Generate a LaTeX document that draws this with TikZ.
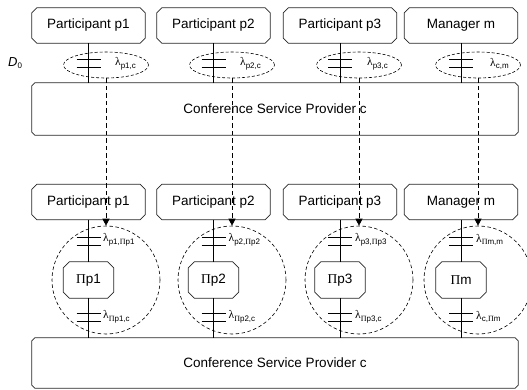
\documentclass[tikz,border=0pt]{standalone}
\usepackage{fontspec}
\setmainfont{Liberation Sans}
\newfontfamily\gfont{Liberation Serif}
\usetikzlibrary{shapes.geometric,arrows.meta}
\newcommand\lab[2]{{\fontsize{11.5}{11.5}\selectfont\gfont #1}\raisebox{-2.5pt}{\fontsize{8}{8}\selectfont #2}}
\newcommand\PI{{\gfont Π}}
\newcommand\chamf[2]{\draw[outline] ([xshift=#2]#1.north west) -- ([xshift=-#2]#1.north east) -- ([yshift=-#2]#1.north east) -- ([yshift=#2]#1.south east) -- ([xshift=-#2]#1.south east) -- ([xshift=#2]#1.south west) -- ([yshift=#2]#1.south west) -- ([yshift=-#2]#1.north west) -- cycle;}
\begin{document}
\begin{tikzpicture}[x=1pt,y=-1pt,
  box/.style={rectangle, minimum width=113pt, minimum height=35pt, inner sep=0pt,
    font=\fontsize{13.5}{14}\selectfont},
  outline/.style={line width=0.7pt, draw=black!85},
  csp/.style={box, minimum width=486pt},
  pibox/.style={box, minimum width=50pt, minimum height=36pt},
  oval/.style={ellipse, draw, dash pattern=on 3pt off 2pt, line width=0.6pt, minimum width=85pt, minimum height=26pt, inner sep=0pt},
  ring/.style={circle, draw, dash pattern=on 3.5pt off 2.5pt, line width=0.6pt, minimum size=108pt, inner sep=0pt},
  wire/.style={line width=0.7pt},
  bar/.style={line width=0.8pt},
  flow/.style={line width=0.7pt, dash pattern=on 4.5pt off 3pt, -{Triangle[length=7pt,width=7pt]}},
  lbl/.style={anchor=west, inner sep=0pt}
]
\useasboundingbox (0,0) rectangle (527,390);

% D0
\node[inner sep=0pt, anchor=west, font=\fontsize{13}{13}\selectfont] (d0) at (8,63) {\textit{D}\raisebox{-2.5pt}{\fontsize{8}{8}\selectfont 0}};

% top participants
\node[box] (tp1) at (88.5,25.5) {Participant p1};
\node[box] (tp2) at (213.5,25.5) {Participant p2};
\node[box] (tp3) at (340,25.5) {Participant p3};
\node[box] (tm)  at (461,25.5) {Manager m};

\node[csp, minimum height=52pt] (csp1) at (275,109) {Conference Service Provider c};

% ellipses
\node[oval] (e1) at (106,65) {};
\node[oval] (e2) at (232,65) {};
\node[oval] (e3) at (359,65) {};
\node[oval] (e4) at (478,65) {};

% lower participants
\node[box] (bp1) at (88.5,202) {Participant p1};
\node[box] (bp2) at (213.5,202) {Participant p2};
\node[box] (bp3) at (340,202) {Participant p3};
\node[box] (bm)  at (461,202) {Manager m};

% circles
\node[ring] (c1) at (106,280) {};
\node[ring] (c2) at (232,280) {};
\node[ring] (c3) at (359,280) {};
\node[ring] (c4) at (478,280) {};

% Pi boxes
\node[pibox] (pi1) at (88.5,280) {\PI p1};
\node[pibox] (pi2) at (213.5,280) {\PI p2};
\node[pibox] (pi3) at (340,280) {\PI p3};
\node[pibox] (pim) at (461,280) {\PI m};

\node[csp, minimum height=50pt] (csp2) at (275,363) {Conference Service Provider c};

% outlines
\foreach \n in {tp1,tp2,tp3,tm,bp1,bp2,bp3,bm}{\chamf{\n}{5pt}}
\foreach \n in {pi1,pi2,pi3,pim}{\chamf{\n}{6pt}}
\chamf{csp1}{3pt}
\chamf{csp2}{3pt}

% wires and bars
\foreach \t/\p/\b in {tp1/pi1/bp1, tp2/pi2/bp2, tp3/pi3/bp3, tm/pim/bm}{
  \draw[wire] (\t.south) -- (\t.south |- csp1.north);
  \draw[wire] (\b.south) -- (\p.north);
  \draw[wire] (\p.south) -- (\p.south |- csp2.north);
  \draw[bar] ([xshift=-12pt]\t.south |- 0,59) -- ([xshift=12pt]\t.south |- 0,59);
  \draw[bar] ([xshift=-12pt]\t.south |- 0,67) -- ([xshift=12pt]\t.south |- 0,67);
  \draw[bar] ([xshift=-12pt]\t.south |- 0,237) -- ([xshift=12pt]\t.south |- 0,237);
  \draw[bar] ([xshift=-12pt]\t.south |- 0,245) -- ([xshift=12pt]\t.south |- 0,245);
  \draw[bar] ([xshift=-12pt]\t.south |- 0,313) -- ([xshift=12pt]\t.south |- 0,313);
  \draw[bar] ([xshift=-12pt]\t.south |- 0,321) -- ([xshift=12pt]\t.south |- 0,321);
}

% labels
\node[lbl] (l1) at (115,64) {\lab{λ}{p1,c}};
\node[lbl] (l2) at (240,64) {\lab{λ}{p2,c}};
\node[lbl] (l3) at (367,64) {\lab{λ}{p3,c}};
\node[lbl] (l4) at (490,64) {\lab{λ}{c,m}};

\node[lbl] (u1) at (103,240) {\lab{λ}{p1,\PI p1}};
\node[lbl] (u2) at (228.5,240) {\lab{λ}{p2,\PI p2}};
\node[lbl] (u3) at (355,240) {\lab{λ}{p3,\PI p3}};
\node[lbl] (u4) at (476,240) {\lab{λ}{\PI m,m}};

\node[lbl] (w1) at (103,317) {\lab{λ}{\PI p1,c}};
\node[lbl] (w2) at (228.5,317) {\lab{λ}{\PI p2,c}};
\node[lbl] (w3) at (355,317) {\lab{λ}{\PI p3,c}};
\node[lbl] (w4) at (476,317) {\lab{λ}{c,\PI m}};

% dashed flows
\draw[flow] (e1.south) -- (c1.north);
\draw[flow] (e2.south) -- (c2.north);
\draw[flow] (e3.south) -- (c3.north);
\draw[flow] (e4.south) -- (c4.north);
\end{tikzpicture}
\end{document}
